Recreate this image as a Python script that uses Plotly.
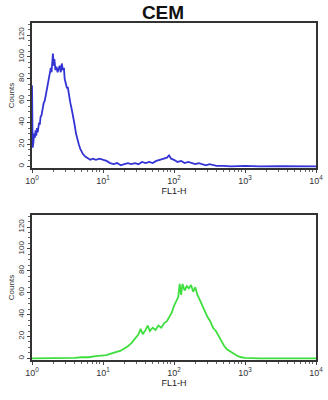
import plotly.graph_objects as go

# ---- data (x given as log10 of FL1-H) ----
blue_logx = [0.000, 0.003, 0.010, 0.020, 0.030, 0.040, 0.050, 0.060, 0.070, 0.080, 0.090, 0.100,
             0.110, 0.120, 0.135, 0.150, 0.165, 0.180, 0.195, 0.210, 0.225, 0.240, 0.255, 0.265,
             0.275, 0.285, 0.295, 0.305, 0.315, 0.330, 0.345, 0.360, 0.375, 0.390, 0.405, 0.420,
             0.435, 0.450, 0.460, 0.475, 0.490, 0.505, 0.520, 0.540, 0.560, 0.580, 0.600, 0.620,
             0.640, 0.660, 0.680, 0.700, 0.720, 0.750, 0.780, 0.820, 0.860, 0.900, 0.950, 1.000,
             1.050, 1.100, 1.150, 1.200, 1.250, 1.300, 1.350, 1.400, 1.450, 1.500, 1.550, 1.600,
             1.650, 1.700, 1.750, 1.800, 1.850, 1.900, 1.930, 1.960, 2.000, 2.050, 2.100, 2.150,
             2.200, 2.250, 2.300, 2.350, 2.400, 2.450, 2.500, 2.550, 2.600, 2.700, 2.800, 3.000,
             3.200, 3.500, 4.000]
blue_counts = [74, 20, 17, 22, 30, 26, 33, 28, 35, 31, 36, 40,
               38, 45, 47, 53, 58, 60, 65, 70, 76, 80, 84, 90,
               86, 95, 103, 92, 98, 88, 91, 86, 89, 92, 86, 94,
               88, 90, 80, 76, 72, 72, 65, 58, 52, 46, 38, 30,
               24, 20, 16, 13, 11, 9, 8, 6, 7, 6, 7, 6,
               5, 3, 2, 3, 1, 2, 3, 2, 3, 2, 4, 3,
               4, 3, 5, 6, 7, 8, 10, 7, 6, 4, 5, 3,
               4, 3, 2, 3, 2, 1, 2, 1, 0.5, 0.5, 0, 0.5,
               0, 0.3, 0]

green_logx = [0.00, 0.30, 0.50, 0.60, 0.70, 0.80, 0.90, 1.00, 1.05, 1.10, 1.15, 1.20, 1.25,
              1.30, 1.35, 1.40, 1.45, 1.50, 1.53, 1.56, 1.60, 1.63, 1.66, 1.70, 1.74, 1.78,
              1.82, 1.86, 1.90, 1.94, 1.97, 2.00, 2.03, 2.06, 2.08, 2.10, 2.12, 2.15, 2.18,
              2.21, 2.24, 2.27, 2.30, 2.33, 2.36, 2.40, 2.43, 2.47, 2.51, 2.55, 2.59, 2.63,
              2.67, 2.71, 2.75, 2.80, 2.85, 2.90, 2.95, 3.00, 3.20, 3.50, 4.00]
green_counts = [0, 0, 0.5, 0.5, 1, 1, 2, 2.5, 3, 4, 5, 6, 7,
                9, 11, 14, 18, 22, 27, 22, 26, 30, 25, 28, 26, 30,
                28, 32, 34, 38, 42, 48, 52, 56, 68, 58, 68, 62, 66,
                64, 67, 61, 65, 58, 54, 48, 45, 38, 34, 28, 25, 20,
                15, 11, 8, 6, 4, 2, 1, 0.5, 0, 0, 0]

x_tickvals = [1, 10, 100, 1000, 10000]
x_ticktext = ["10<sup>0</sup>", "10<sup>1</sup>", "10<sup>2</sup>", "10<sup>3</sup>", "10<sup>4</sup>"]
y_tickvals = [0, 20, 40, 60, 80, 100, 120]
title_text = "CEM"
x_title = "FL1-H"
y_title = "Counts"

FONT = "Liberation Sans, Arial, sans-serif"
W, H = 328, 400

minor_x = [m * 10 ** k for k in range(4) for m in range(2, 10)]

fig = go.Figure()
fig.add_trace(go.Scatter(x=[10 ** v for v in blue_logx], y=blue_counts, mode="lines",
                         line=dict(color="#3434d4", width=1.8), xaxis="x", yaxis="y",
                         showlegend=False))
fig.add_trace(go.Scatter(x=[10 ** v for v in green_logx], y=green_counts, mode="lines",
                         line=dict(color="#3ede3e", width=1.8), xaxis="x2", yaxis="y2",
                         showlegend=False))

def xaxis(domain, anchor):
    return dict(type="log", range=[0, 4], domain=domain, anchor=anchor, automargin=False,
                tickvals=x_tickvals, ticktext=x_ticktext,
                ticks="outside", ticklen=3, tickwidth=1, tickcolor="#444",
                minor=dict(tickvals=minor_x, ticks="outside", ticklen=2, tickcolor="#666"),
                showline=True, linecolor="#333", linewidth=1.5, mirror=True,
                showgrid=False, zeroline=False,
                tickfont=dict(family=FONT, size=9, color="#333"),
                title=dict(text=x_title, font=dict(family=FONT, size=9, color="#222"), standoff=1))

def yaxis(domain, anchor):
    return dict(range=[-1.5, 131], domain=domain, anchor=anchor, automargin=False,
                tickvals=y_tickvals, tickangle=-90,
                ticks="outside", ticklen=3, tickwidth=1, tickcolor="#444",
                minor=dict(dtick=5, ticks="outside", ticklen=2, tickcolor="#666"),
                showline=True, linecolor="#333", linewidth=1.5, mirror=True,
                showgrid=False, zeroline=False,
                tickfont=dict(family=FONT, size=8, color="#333"),
                title=dict(text=y_title, font=dict(family=FONT, size=8, color="#333"), standoff=1))

x0, x1 = 32 / W, 316 / W
fig.update_layout(
    width=W, height=H,
    margin=dict(l=0, r=0, t=0, b=0, autoexpand=False),
    paper_bgcolor="white", plot_bgcolor="white",
    xaxis=xaxis([x0, x1], "y"),
    yaxis=yaxis([1 - 168 / H, 1 - 23 / H], "x"),
    xaxis2=xaxis([x0, x1], "y2"),
    yaxis2=yaxis([1 - 360 / H, 1 - 215 / H], "x2"),
    title=dict(text="<b>" + title_text + "</b>", x=163 / W, xanchor="center",
               y=1 - 12 / H, yanchor="middle", automargin=False,
               font=dict(family=FONT, size=19, color="#111")),
)

fig.write_html("out.html")
